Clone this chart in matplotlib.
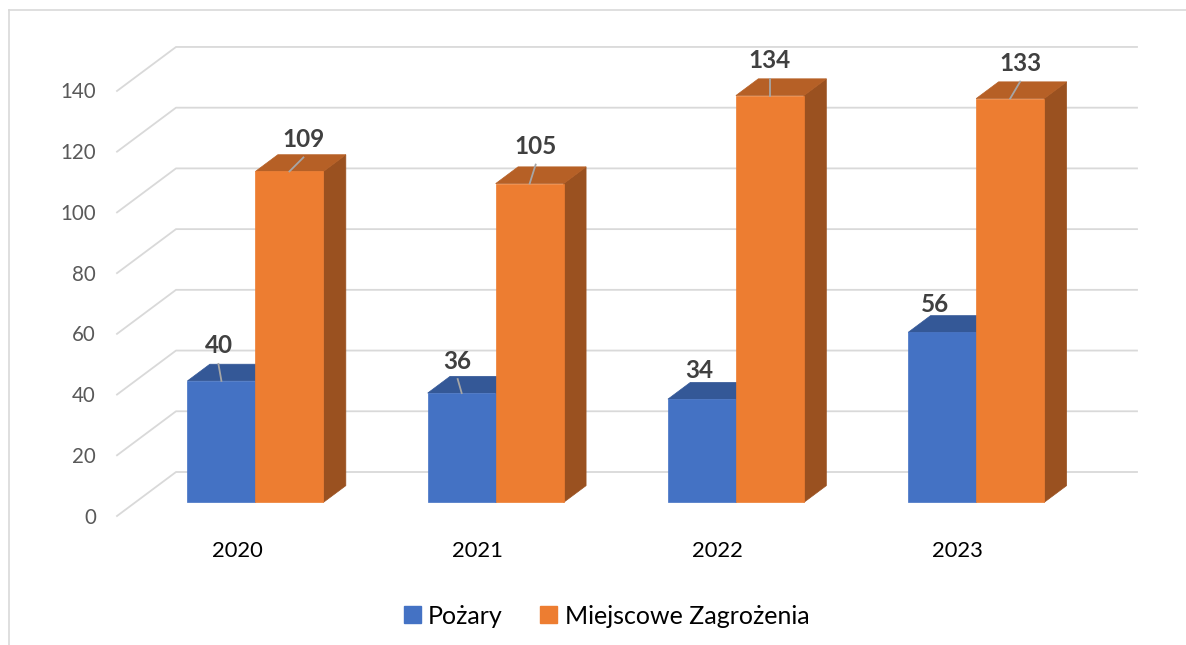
import matplotlib.pyplot as plt
from matplotlib.patches import Polygon, Patch
from matplotlib.lines import Line2D

# Dane
lata = ['2020', '2021', '2022', '2023']
pozary = [40, 36, 34, 56]
zagrozenia = [109, 105, 134, 133]
serie = ['Pożary', 'Miejscowe Zagrożenia']
podzialka_y = [0, 20, 40, 60, 80, 100, 120, 140]

# Kolory w stylu Excela: przód, góra, bok
KOLORY = [('#4472C4', '#345897', '#2B4A80'),
          ('#ED7D31', '#B66026', '#9A5120')]
SIATKA = '#D9D9D9'
FONT = 'Lato'

# Wymiary obrazka i geometria "3D"
W, H = 1186, 645
PX_KAT = 240.25      # szerokość jednej kategorii (px)
PX_JEDN = 3.036      # pikseli na jednostkę osi Y
X0_PX, Y0_PX = 117, 516   # lewy dolny róg przedniej płaszczyzny
GLEB_X = 59 / PX_KAT      # przesunięcie tylnej ściany
GLEB_Y = 44 / PX_JEDN
F_PRZOD, F_TYL = 0.31, 0.69   # położenie słupka w głębi
SZER = 0.283                  # szerokość jednego słupka

# Przesunięcia etykiet danych (px): dx, dy nad słupkiem, linia odniesienia
ETYKIETY = [[(-3, 36, True), (-4, 33, True), (-3, 30, False), (-7, 29, False)],
            [(14, 33, True), (6, 38, True), (0, 36, True), (10, 36, True)]]


def px(dx, dy):
    """Zamienia przesunięcie w pikselach na jednostki danych."""
    return dx / PX_KAT, dy / PX_JEDN


def rysuj_serie(ax, x, wartosci, kolory, z):
    przod, gora, bok = kolory
    sx, sy = F_PRZOD * GLEB_X, F_PRZOD * GLEB_Y
    gx, gy = (F_TYL - F_PRZOD) * GLEB_X, (F_TYL - F_PRZOD) * GLEB_Y
    for xi, v in zip(x, wartosci):
        lewo, prawo = xi + sx, xi + sx + SZER
        dol, szczyt = sy, v + sy
        # bok
        ax.add_patch(Polygon([(prawo, dol), (prawo + gx, dol + gy),
                              (prawo + gx, szczyt + gy), (prawo, szczyt)],
                             fc=bok, ec=bok, lw=0.5, zorder=z))
        # góra
        ax.add_patch(Polygon([(lewo, szczyt), (lewo + gx, szczyt + gy),
                              (prawo + gx, szczyt + gy), (prawo, szczyt)],
                             fc=gora, ec=gora, lw=0.5, zorder=z))
    # przód
    ax.bar([xi + sx for xi in x], wartosci, width=SZER, bottom=sy,
           align='edge', color=kolory[0], ec=kolory[0], lw=0.5, zorder=z + 0.5)


def main():
    fig = plt.figure(figsize=(W / 100, H / 100), dpi=100)
    ax = fig.add_axes([0, 0, 1, 1])
    ax.set_xlim(-0.5 - X0_PX / PX_KAT, -0.5 + (W - X0_PX) / PX_KAT)
    ax.set_ylim(-(H - Y0_PX) / PX_JEDN, Y0_PX / PX_JEDN)
    ax.axis('off')

    # Ramka wykresu (przycięta z prawej i z dołu)
    fig.add_artist(Line2D([9 / W, 9 / W], [0, 1 - 9.5 / H], transform=fig.transFigure,
                          color=SIATKA, lw=1.2))
    fig.add_artist(Line2D([9 / W, 1], [1 - 9.5 / H, 1 - 9.5 / H], transform=fig.transFigure,
                          color=SIATKA, lw=1.2))

    # Siatka: skos na bocznej ścianie + linia na tylnej ścianie
    n = len(lata)
    for v in podzialka_y:
        ax.plot([-0.5, -0.5 + GLEB_X, n - 0.5 + GLEB_X],
                [v, v + GLEB_Y, v + GLEB_Y], color=SIATKA, lw=1.3, zorder=1)
        ox, oy = px(-21, 7.5)
        ax.text(-0.5 + ox, v - oy, str(v), ha='right', va='baseline',
                fontsize=14.8, color='#595959', family=FONT)

    # Etykiety kategorii
    x = list(range(n))
    for xi, rok in zip(x, lata):
        ax.text(xi, -13.4, rok, ha='center', va='baseline', fontsize=15.8,
                color='black', family=FONT)

    # Słupki
    offsety = [-SZER, 0]
    for s, wartosci in enumerate([pozary, zagrozenia]):
        xs = [xi + offsety[s] for xi in x]
        rysuj_serie(ax, xs, wartosci, KOLORY[s], 3 + s)

        # Etykiety danych z liniami odniesienia
        for xi, v, (dx, dy, linia) in zip(xs, wartosci, ETYKIETY[s]):
            cx = xi + F_PRZOD * GLEB_X + SZER / 2
            cy = v + F_PRZOD * GLEB_Y
            ddx, ddy = px(dx, dy)
            lx, ly = cx + ddx, cy + ddy
            if linia:
                ax.plot([cx, lx], [cy, ly - 19 / PX_JEDN], color='#A6A6A6',
                        lw=1.3, zorder=6)
            ax.text(lx, ly - 8.5 / PX_JEDN, str(v), ha='center', va='baseline',
                    fontsize=17.5, fontweight='bold', color='#404040',
                    family=FONT, zorder=7)

    # Legenda
    uchwyty = [Patch(color=KOLORY[i][0], label=serie[i]) for i in range(2)]
    fig.legend(handles=uchwyty, loc='center', bbox_to_anchor=(606.5 / W, 1 - 616 / H),
               ncol=2, frameon=False, prop={'family': FONT, 'size': 18},
               handlelength=0.68, handleheight=0.68, handletextpad=0.3,
               columnspacing=1.5, borderpad=0)

    fig.savefig('out.png', dpi=100)


if __name__ == "__main__":
    main()
